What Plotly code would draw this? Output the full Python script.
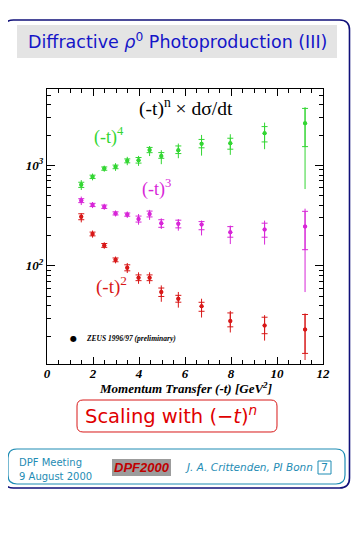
import plotly.graph_objects as go

# ---------------- data ----------------
t_vals = [1.49, 1.98, 2.49, 2.98, 3.49, 3.98, 4.46, 4.97, 5.71, 6.72, 7.97, 9.46, 11.22]

green_y = [641, 769, 929, 966, 1109, 1125, 1422, 1242, 1413, 1644, 1660, 2084, 2619]
green_stat_up = [38, 30, 35, 40, 50, 72, 85, 97, 146, 165, 200, 344, 1062]
green_stat_dn = [38, 30, 35, 40, 50, 72, 85, 67, 103, 150, 213, 375, 1084]
green_tot_up = [72, 60, 65, 85, 106, 116, 135, 172, 233, 362, 379, 575, 1174]
green_tot_dn = [72, 60, 65, 85, 106, 137, 185, 215, 236, 395, 389, 637, 2038]

mag_y = [446, 404, 388, 333, 324, 293, 329, 265, 262, 258, 216, 230, 246]
mag_stat_up = [20, 15, 15, 12, 12, 20, 22, 23, 23, 18, 30, 36, 103]
mag_stat_dn = [20, 15, 15, 12, 12, 20, 22, 23, 23, 29, 23, 37, 101]
mag_tot_up = [43, 28, 27, 23, 24, 35, 32, 32, 30, 25, 36, 52, 125]
mag_tot_dn = [43, 28, 27, 23, 24, 36, 42, 32, 38, 57, 51, 67, 191]

red_y = [309, 208, 160, 115, 96, 76.4, 76.4, 55, 47.3, 39.7, 28.4, 25.6, 23.3]
red_stat_up = [21, 9, 7, 5, 6.6, 5, 5, 5.3, 3.7, 3.8, 5.7, 5.3, 9.6]
red_stat_dn = [21, 9, 7, 5, 6.6, 5, 5, 5.3, 3.7, 4.3, 3.6, 4.4, 9.8]
red_tot_up = [24, 17, 12, 9, 11, 10, 10, 9, 7.8, 7.5, 7.3, 6.8, 10.4]
red_tot_dn = [38, 17, 12, 9, 11, 10, 10, 11, 8.8, 9, 6.6, 7.5, 11.7]

x_ticks = [0, 2, 4, 6, 8, 10, 12]
y_ticks = [100, 1000]
y_tick_labels = ["<b><i>10</i></b><sup><b><i>2</i></b></sup>",
                 "<b><i>10</i></b><sup><b><i>3</i></b></sup>"]

GREEN = "#33d633"
MAGENTA = "#d826d8"
RED = "#d81818"
TEAL = "#1e8cb4"
NAVY = "#10107a"

# ---------------- layout geometry ----------------
OFF = 8                      # page body margin of the html page
W, H = 363 - 2 * OFF, 535 - 2 * OFF
L = 47 - OFF
T = 89 - OFF
R = W - (323 - OFF)
B = H - (364 - OFF)


def px(xp):
    return (xp - OFF - L) / (W - L - R)


def py(yp):
    return (H - B - (yp - OFF)) / (H - T - B)


def rr_path(x0, y0, x1, y1, r):
    def P(x, y):
        return f"{px(x):.5f},{py(y):.5f}"
    return (f"M {P(x0 + r, y0)} L {P(x1 - r, y0)} Q {P(x1, y0)} {P(x1, y0 + r)} "
            f"L {P(x1, y1 - r)} Q {P(x1, y1)} {P(x1 - r, y1)} "
            f"L {P(x0 + r, y1)} Q {P(x0, y1)} {P(x0, y1 - r)} "
            f"L {P(x0, y0 + r)} Q {P(x0, y0)} {P(x0 + r, y0)} Z")


fig = go.Figure()


def add_series(y, su, sd, tu, td, color):
    fig.add_trace(go.Scatter(
        x=t_vals, y=y, mode="markers",
        marker=dict(size=4, color=color, symbol="circle"),
        error_y=dict(type="data", symmetric=False, array=tu, arrayminus=td,
                     color=color, thickness=1, width=0),
        showlegend=False, hoverinfo="skip"))
    fig.add_trace(go.Scatter(
        x=t_vals, y=y, mode="markers",
        marker=dict(size=4, color=color, symbol="circle"),
        error_y=dict(type="data", symmetric=False, array=su, arrayminus=sd,
                     color=color, thickness=1, width=3),
        showlegend=False, hoverinfo="skip"))


add_series(green_y, green_stat_up, green_stat_dn, green_tot_up, green_tot_dn, GREEN)
add_series(mag_y, mag_stat_up, mag_stat_dn, mag_tot_up, mag_tot_dn, MAGENTA)
add_series(red_y, red_stat_up, red_stat_dn, red_tot_up, red_tot_dn, RED)

serif = "Liberation Serif"
sans = "DejaVu Sans"

minor_y = [v * m for m in (10, 100, 1000) for v in range(2, 10) if 10.6 < v * m < 5800]

fig.update_layout(
    width=W, height=H,
    margin=dict(l=L, r=R, t=T, b=B, pad=0),
    paper_bgcolor="white", plot_bgcolor="white",
    showlegend=False,
    xaxis=dict(range=[0, 12], showline=True, linecolor="black", linewidth=1,
               mirror="ticks", ticks="inside", ticklen=7, tickcolor="black",
               tickvals=x_ticks, ticktext=[f"<b><i>{v}</i></b>" for v in x_ticks],
               tickfont=dict(family=serif, size=13, color="black"),
               ticklabelstandoff=-3,
               showgrid=False, zeroline=False,
               minor=dict(ticks="inside", ticklen=4, dtick=0.5, tick0=0,
                          tickcolor="black", showgrid=False)),
    yaxis=dict(type="log", range=[1.025, 3.759], showline=True, linecolor="black",
               linewidth=1, mirror="ticks", ticks="inside", ticklen=8,
               tickcolor="black", tickvals=y_ticks, ticktext=y_tick_labels,
               tickfont=dict(family=serif, size=13, color="black"),
               showgrid=False, zeroline=False,
               minor=dict(ticks="inside", ticklen=4, tickmode="array",
                          tickvals=minor_y, tickcolor="black", showgrid=False)),
)

shapes = [
    dict(type="path", path=rr_path(3.5, 20, 349.5, 488, 10), xref="paper", yref="paper",
         line=dict(color=NAVY, width=1.6)),
    dict(type="rect", x0=px(17), x1=px(337), y0=py(25), y1=py(58), xref="paper", yref="paper",
         fillcolor="#e4e4e4", line=dict(width=0), layer="below"),
    dict(type="path", path=rr_path(77, 400, 277, 432, 6), xref="paper", yref="paper",
         line=dict(color=RED, width=1)),
    dict(type="path", path=rr_path(8, 449, 345, 484, 9), xref="paper", yref="paper",
         line=dict(color=TEAL, width=1.2)),
    dict(type="rect", x0=px(112), x1=px(171), y0=py(459), y1=py(476), xref="paper", yref="paper",
         fillcolor="#9c9c9c", line=dict(width=0), layer="below"),
    dict(type="rect", x0=px(318), x1=px(331), y0=py(461), y1=py(474), xref="paper", yref="paper",
         line=dict(color=TEAL, width=1)),
]
fig.update_layout(shapes=shapes)


def ann(text, x, y, size, color, family, xanchor="center", yanchor="middle"):
    fig.add_annotation(text=text, x=px(x), y=py(y), xref="paper", yref="paper",
                       xanchor=xanchor, yanchor=yanchor, showarrow=False,
                       font=dict(size=size, color=color, family=family))


ann("Diffractive <i>ρ</i><sup>0</sup> Photoproduction (III)", 177, 41, 17.5, "#1515c8", sans)
ann("(-t)<sup>n</sup> × dσ/dt", 186, 107, 19.5, "black", serif)
ann("(-t)<sup>4</sup>", 109, 136, 18, GREEN, serif)
ann("(-t)<sup>3</sup>", 156, 188, 18, MAGENTA, serif)
ann("(-t)<sup>2</sup>", 111, 285, 19, RED, serif)
ann("●", 73, 338, 8, "black", sans)
ann("<b><i>ZEUS 1996/97 (preliminary)</i></b>", 84, 338, 7.5, "black", serif, xanchor="left")
ann("<b><i>Momentum Transfer (-t) [GeV<sup>2</sup>]</i></b>", 185, 388, 13, "black", serif)
ann("Scaling with (−<i>t</i>)<sup><i>n</i></sup>", 171, 415, 19.5, "#e00000", sans)
ann("DPF Meeting", 17, 462, 10, TEAL, sans, xanchor="left")
ann("9 August 2000", 17, 476, 10, TEAL, sans, xanchor="left")
ann("<b><i>DPF2000</i></b>", 141.5, 467.5, 13, "#c00000", "Liberation Sans")
ann("<i>J. A. Crittenden, PI Bonn</i>", 183, 467, 10.5, TEAL, sans, xanchor="left")
ann("7", 324.5, 467.5, 11, TEAL, sans)

fig.write_html("out.html")
